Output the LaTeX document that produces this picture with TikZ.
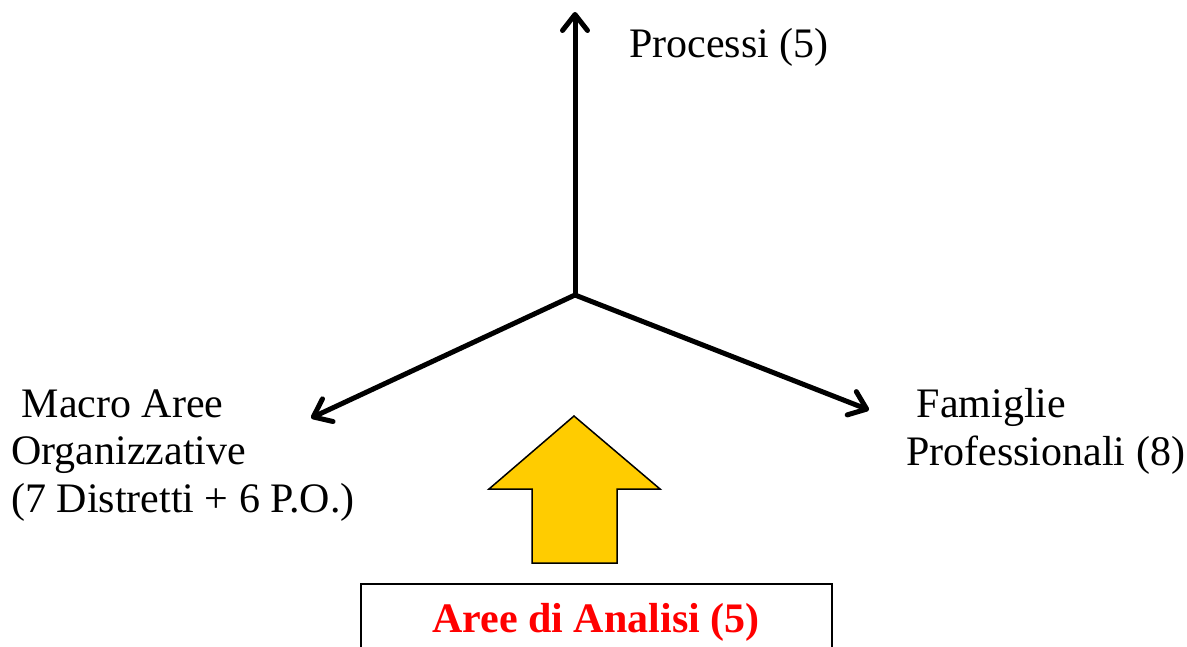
\documentclass[tikz,border=0pt]{standalone}
\usepackage{fontspec}
\setmainfont{Liberation Serif}
\usetikzlibrary{arrows.meta}

\definecolor{arrowyellow}{HTML}{FFCC00}
\definecolor{labelred}{HTML}{FF0000}

\begin{document}
\begin{tikzpicture}[x=1pt, y=-1pt, >={Straight Barb[length=16pt, width=25pt, round]},
    axis/.style={->, line width=5pt},
    label/.style={anchor=base west, inner sep=0, align=left,
        font=\fontsize{42pt}{47.5pt}\selectfont}]
    \useasboundingbox (0,0) rectangle (1187,646);

    % axes
    \coordinate (o) at (575,295);
    \coordinate (up) at (575,12);
    \coordinate (left) at (311,418);
    \coordinate (right) at (869,410);
    \draw[axis] (o) -- (up);
    \draw[axis] (o) -- (left);
    \draw[axis] (o) -- (right);

    % axis labels (base = last line)
    \node[label] (proc) at (629,57) {Processi (5)};
    \node[label] (macro) at (11,512) {\ Macro Aree\\Organizzative\\(7 Distretti + 6 P.O.)};
    \node[label] (fam) at (906,465) {\ Famiglie\\Professionali (8)};

    % block arrow
    \draw[fill=arrowyellow, line width=1.5pt] (574,416) -- (660,489) -- (617,489)
        -- (617,563) -- (532,563) -- (532,489) -- (489,489) -- cycle;

    % analysis box
    \draw[line width=1.5pt] (361,700) -- (361,584) -- (832,584) -- (832,700);
    \node[anchor=base, inner sep=0, text=labelred,
        font=\fontsize{42pt}{48pt}\selectfont\bfseries] (aree) at (596,632) {Aree di Analisi (5)};
\end{tikzpicture}
\end{document}
